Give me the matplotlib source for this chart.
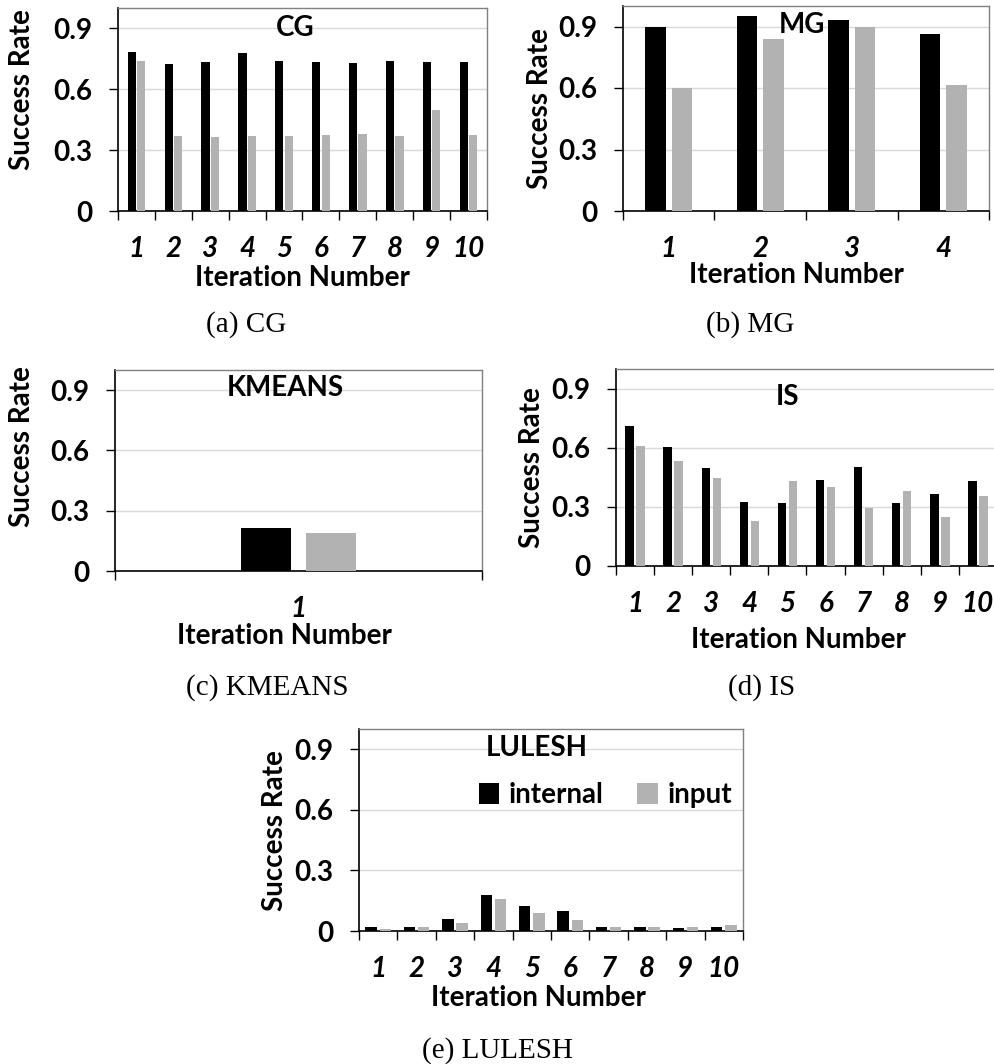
import numpy as np
import matplotlib
matplotlib.use("Agg")
import matplotlib.pyplot as plt

plt.rcParams['font.family'] = ['Lato', 'DejaVu Sans']
plt.rcParams['font.weight'] = 'bold'

# values
cg_internal = [0.784, 0.723, 0.736, 0.778, 0.741, 0.736, 0.730, 0.741, 0.736, 0.736]
cg_input = [0.738, 0.371, 0.364, 0.371, 0.371, 0.376, 0.381, 0.371, 0.496, 0.376]

mg_internal = [0.897, 0.951, 0.933, 0.862]
mg_input = [0.599, 0.838, 0.897, 0.615]

km_internal = [0.212]
km_input = [0.189]

is_internal = [0.711, 0.603, 0.498, 0.324, 0.319, 0.436, 0.503, 0.319, 0.368, 0.430]
is_input = [0.608, 0.535, 0.448, 0.226, 0.430, 0.399, 0.295, 0.380, 0.251, 0.357]

lu_internal = [0.020, 0.020, 0.061, 0.177, 0.122, 0.098, 0.020, 0.020, 0.013, 0.020]
lu_input = [0.010, 0.020, 0.038, 0.159, 0.088, 0.056, 0.020, 0.020, 0.020, 0.031]

yticks = [0, 0.3, 0.6, 0.9]
ytick_labels = ['0', '0.3', '0.6', '0.9']

W, H = 995, 1064
FS = 20
BLACK = '#000000'
GRAY = '#b2b2b2'

fig = plt.figure(figsize=(W / 100, H / 100), dpi=100)


def px_axes(l, r, t, b):
    return fig.add_axes([l / W, 1 - b / H, (r - l) / W, (b - t) / H])


def panel(box, internal, inp, name, w, gap, title_xy, ylab_xy, xlab_xy, legend=False):
    ax = px_axes(*box)
    n = len(internal)
    x = np.arange(n)
    off = (w + gap) / 2
    ax.bar(x - off, internal, w, color=BLACK, zorder=3, label='internal')
    ax.bar(x + off, inp, w, color=GRAY, zorder=3, label='input')
    ax.set_xlim(-0.5, n - 0.5)
    ax.set_ylim(0, 1.0)
    ax.set_yticks(yticks)
    ax.set_yticklabels(ytick_labels, fontsize=FS, fontweight='bold')
    ax.yaxis.grid(True, color='#d9d9d9', lw=1.0, zorder=0)
    ax.set_axisbelow(True)

    ax.set_xticks(np.arange(n + 1) - 0.5)
    ax.set_xticklabels([])
    ax.set_xticks(x, minor=True)
    ax.set_xticklabels([str(i + 1) for i in x], minor=True, fontsize=FS,
                       fontweight='bold', fontstyle='italic')
    ax.tick_params(axis='x', which='major', direction='out', length=6.5, width=1.0)
    ax.tick_params(axis='x', which='minor', length=0, pad=18)
    ax.tick_params(axis='y', direction='out', length=6.5, width=1.0, pad=12)

    for s in ['left', 'bottom']:
        ax.spines[s].set_color('black')
        ax.spines[s].set_linewidth(1.2)
    for s in ['top', 'right']:
        ax.spines[s].set_color('#808080')
        ax.spines[s].set_linewidth(1.0)

    ax.set_ylabel('Success Rate', fontsize=FS, fontweight='bold')
    ax.yaxis.set_label_coords(*ylab_xy)
    ax.yaxis.label.set_va('center')
    ax.set_xlabel('Iteration Number', fontsize=FS, fontweight='bold')
    ax.xaxis.set_label_coords(*xlab_xy)
    ax.xaxis.label.set_va('center')

    ax.text(title_xy[0], title_xy[1], name, transform=ax.transAxes, ha='center',
            va='center', fontsize=FS, fontweight='bold')

    if legend:
        ax.legend(loc='center', bbox_to_anchor=(0.642, 0.673), ncol=2, frameon=False,
                  fontsize=FS, handlelength=0.75, handleheight=0.75,
                  handletextpad=0.35, columnspacing=1.2, borderpad=0)
    return ax


def caption(x, y, s):
    fig.text(x / W, 1 - y / H, s, ha='center', va='center', fontsize=21,
             family='Liberation Serif', fontweight='normal')


panel((118, 487, 8, 211), cg_internal, cg_input, 'CG', 0.22, 0.035,
      (0.48, 0.90), (-0.26, 0.60), (0.5, -0.33))
panel((623, 989, 6, 211), mg_internal, mg_input, 'MG', 0.22, 0.07,
      (0.49, 0.907), (-0.227, 0.50), (0.475, -0.31))
panel((115, 482, 370, 571), km_internal, km_input, 'KMEANS', 0.138, 0.039,
      (0.463, 0.91), (-0.253, 0.617), (0.463, -0.325))
panel((616, 997, 369, 566), is_internal, is_input, 'IS', 0.22, 0.07,
      (0.449, 0.858), (-0.22, 0.50), (0.478, -0.376))
panel((359, 743, 729, 931), lu_internal, lu_input, 'LULESH', 0.30, 0.07,
      (0.463, 0.906), (-0.219, 0.495), (0.466, -0.33), legend=True)

caption(246, 325, '(a) CG')
caption(750, 325, '(b) MG')
caption(267, 688, '(c) KMEANS')
caption(762, 688, '(d) IS')
caption(497, 1051, '(e) LULESH')

fig.savefig('out.png', dpi=100)
